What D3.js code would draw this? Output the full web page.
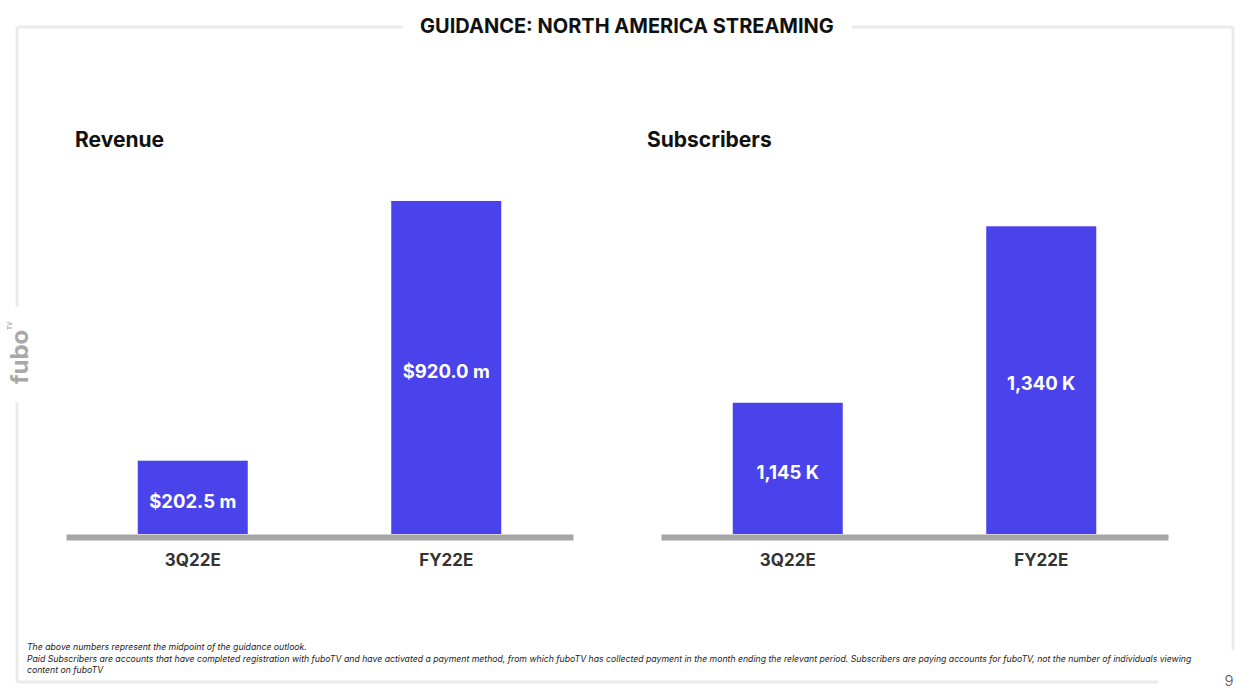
<!DOCTYPE html>
<html>
<head>
<meta charset="utf-8">
<script src="https://cdn.jsdelivr.net/npm/d3@7"></script>
<style>
  body { margin: 0; background: #fff; }
  text { font-family: Inter, "Noto Sans", sans-serif; }
</style>
</head>
<body>
<script>
// data
const categories = ["3Q22E", "FY22E"];
const revenue = [202.5, 920.0];
const subscribers = [1145, 1340];
const revenueDomain = [0, 1000];
const subscriberDomain = [1000, 1400];
const panelTitles = ["Revenue", "Subscribers"];
const footnotes = [
    "The above numbers represent the midpoint of the guidance outlook.",
    "Paid Subscribers are accounts that have completed registration with fuboTV and have activated a payment method, from which fuboTV has collected payment in the month ending the relevant period. Subscribers are paying accounts for fuboTV, not the number of individuals viewing",
    "content on fuboTV"
];

let w = 1242;
let h = 693;
let baseY = 534;
let topY = 172;
let barColor = "#4a43eb";

const svg = d3.select("body")
    .append("svg")
    .attr("width", w)
    .attr("height", h);

// frame round the slide, broken for title, logo and page number
const frame = svg.append("g")
    .attr("fill", "none")
    .attr("stroke", "#ebebeb")
    .attr("stroke-width", 3);

[
    [[17, 27], [403, 27]],
    [[852, 27], [1233, 27]],
    [[1233, 27], [1233, 650]],
    [[17, 682], [1158, 682]],
    [[17, 27], [17, 307]],
    [[17, 402], [17, 682]]
].forEach(function (seg) {
    frame.append("path").attr("d", d3.line()(seg));
});

svg.append("text")
    .attr("x", 627)
    .attr("y", 33)
    .attr("text-anchor", "middle")
    .attr("font-size", 20)
    .attr("font-weight", 700)
    .attr("fill", "#111")
    .text("GUIDANCE: NORTH AMERICA STREAMING");

// fubo logo on the left edge
svg.append("text")
    .attr("transform", "translate(28,384)rotate(-90)")
    .attr("font-size", 24)
    .attr("font-weight", 700)
    .attr("fill", "#a8a8a8")
    .text("fubo");

svg.append("text")
    .attr("transform", "translate(12,330)rotate(-90)")
    .attr("font-size", 6)
    .attr("font-weight", 700)
    .attr("fill", "#a8a8a8")
    .text("TV");

const drawPanel = function (x0, x1, titleX, title, values, domain, fmt) {
    const g = svg.append("g");

    let xScale = d3.scaleBand()
        .domain(categories)
        .range([x0, x1])
        .paddingInner(0.566)
        .paddingOuter(0.283);

    let yScale = d3.scaleLinear()
        .domain(domain)
        .range([baseY, topY]);

    g.append("text")
        .attr("x", titleX)
        .attr("y", 147)
        .attr("font-size", 21)
        .attr("font-weight", 700)
        .attr("fill", "#111")
        .text(title);

    g.selectAll("rect.bar")
        .data(values)
        .enter()
        .append("rect")
        .attr("class", "bar")
        .attr("x", function (d, i) { return xScale(categories[i]); })
        .attr("y", function (d) { return yScale(d); })
        .attr("width", xScale.bandwidth())
        .attr("height", function (d) { return baseY - yScale(d); })
        .attr("fill", barColor);

    g.selectAll("text.val")
        .data(values)
        .enter()
        .append("text")
        .attr("class", "val")
        .attr("x", function (d, i) { return xScale(categories[i]) + xScale.bandwidth() / 2; })
        .attr("y", function (d) { return (yScale(d) + baseY) / 2; })
        .attr("dy", "0.55em")
        .attr("text-anchor", "middle")
        .attr("font-size", 18.5)
        .attr("font-weight", 700)
        .attr("fill", "#fff")
        .text(fmt);

    // baseline axis
    const axis = g.append("g")
        .attr("transform", "translate(0," + (baseY + 3) + ")")
        .call(d3.axisBottom(xScale).tickSize(0).tickPadding(17));

    axis.select(".domain")
        .attr("stroke", "#a6a6a6")
        .attr("stroke-width", 6);

    axis.selectAll(".tick text")
        .attr("font-family", "Inter, sans-serif")
        .attr("font-size", 17)
        .attr("font-weight", 700)
        .attr("fill", "#333");
};

drawPanel(66, 573, 75, panelTitles[0], revenue, revenueDomain, function (d) {
    return "$" + d3.format(".1f")(d) + " m";
});
drawPanel(661, 1168, 647, panelTitles[1], subscribers, subscriberDomain, function (d) {
    return d3.format(",")(d) + " K";
});

// footnotes
svg.selectAll("text.note")
    .data(footnotes)
    .enter()
    .append("text")
    .attr("class", "note")
    .attr("x", 27)
    .attr("y", function (d, i) { return 650 + i * 11.5; })
    .attr("font-size", 8.7)
    .attr("font-style", "italic")
    .attr("fill", "#222")
    .text(function (d) { return d; });

svg.append("text")
    .attr("x", 1229)
    .attr("y", 686)
    .attr("text-anchor", "middle")
    .attr("font-size", 15)
    .attr("font-weight", 300)
    .attr("fill", "#555")
    .text("9");
</script>
</body>
</html>
